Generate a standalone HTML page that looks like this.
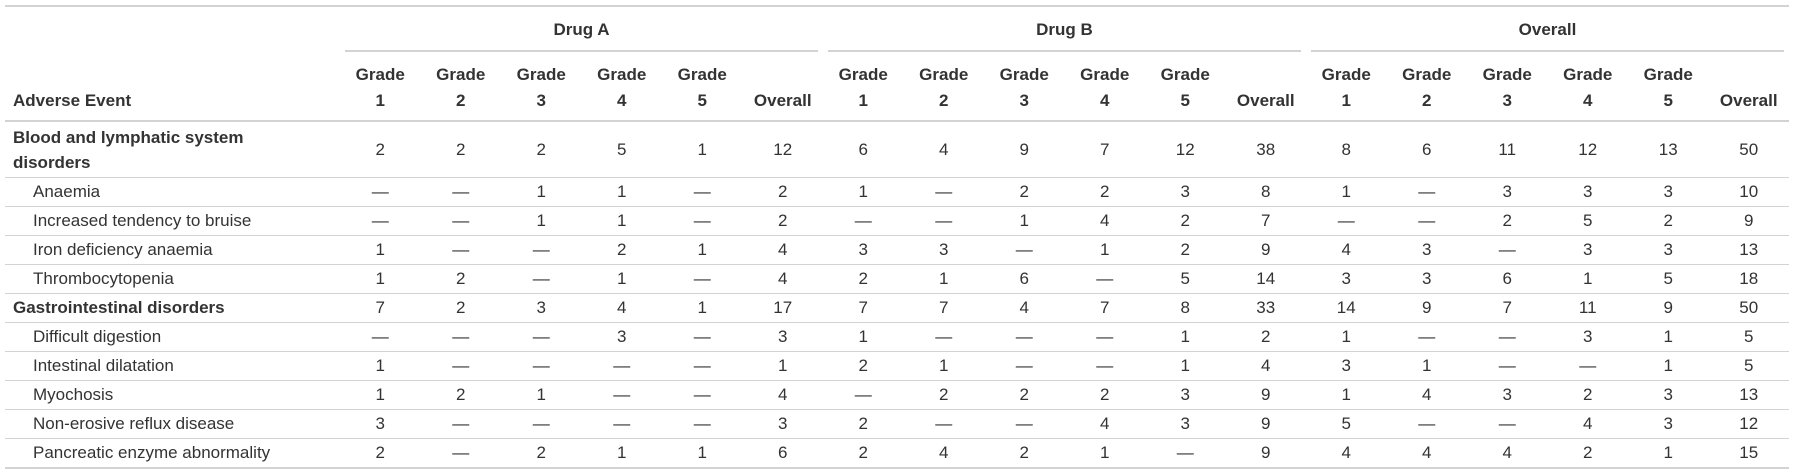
<!DOCTYPE html>
<html><head><meta charset="utf-8"><style>
body{margin:0;background:#fff;width:1795px;height:475px;overflow:hidden;font-family:"Liberation Sans",Arial,sans-serif;color:#333;font-size:17px}
.wrap{position:absolute;left:5px;top:5px;width:1784px;border-top:2px solid #d3d3d3}
.row{display:flex;border-bottom:1px solid #d3d3d3;box-sizing:border-box}
.c{width:80.5px;flex:none;text-align:center;display:flex;align-items:center;justify-content:center}
.l{width:335px;flex:none;display:flex;align-items:center;box-sizing:border-box;padding-left:8px}
.sub{padding-left:28px}
b,.b{font-weight:bold}
.sp{display:flex;height:45px}
.g{width:483px;flex:none;position:relative;text-align:center;font-weight:bold;line-height:45px;height:43px}
.g:after{content:"";position:absolute;left:5px;right:5px;bottom:-2px;border-bottom:2px solid #d3d3d3}
.hd{height:70px;border-bottom:2px solid #d3d3d3;font-weight:bold;line-height:26px}
.hd .c,.hd .l{align-items:flex-end;padding-bottom:6px;box-sizing:border-box}
.r{height:29px}
.r1{height:56px;line-height:25px}
.last{border-bottom:2px solid #d3d3d3;height:30px}
</style></head><body>
<div class="wrap">
<div class="sp"><div style="width:335px"></div><div class="g">Drug A</div><div class="g">Drug B</div><div class="g">Overall</div></div>
<div class="row hd"><div class="l">Adverse Event</div>
<div class="c">Grade<br>1</div><div class="c">Grade<br>2</div><div class="c">Grade<br>3</div><div class="c">Grade<br>4</div><div class="c">Grade<br>5</div><div class="c">Overall</div>
<div class="c">Grade<br>1</div><div class="c">Grade<br>2</div><div class="c">Grade<br>3</div><div class="c">Grade<br>4</div><div class="c">Grade<br>5</div><div class="c">Overall</div>
<div class="c">Grade<br>1</div><div class="c">Grade<br>2</div><div class="c">Grade<br>3</div><div class="c">Grade<br>4</div><div class="c">Grade<br>5</div><div class="c">Overall</div></div>
<div class="row r1"><div class="l b">Blood and lymphatic system<br>disorders</div><div class="c">2</div><div class="c">2</div><div class="c">2</div><div class="c">5</div><div class="c">1</div><div class="c">12</div><div class="c">6</div><div class="c">4</div><div class="c">9</div><div class="c">7</div><div class="c">12</div><div class="c">38</div><div class="c">8</div><div class="c">6</div><div class="c">11</div><div class="c">12</div><div class="c">13</div><div class="c">50</div></div>
<div class="row r"><div class="l sub">Anaemia</div><div class="c">—</div><div class="c">—</div><div class="c">1</div><div class="c">1</div><div class="c">—</div><div class="c">2</div><div class="c">1</div><div class="c">—</div><div class="c">2</div><div class="c">2</div><div class="c">3</div><div class="c">8</div><div class="c">1</div><div class="c">—</div><div class="c">3</div><div class="c">3</div><div class="c">3</div><div class="c">10</div></div>
<div class="row r"><div class="l sub">Increased tendency to bruise</div><div class="c">—</div><div class="c">—</div><div class="c">1</div><div class="c">1</div><div class="c">—</div><div class="c">2</div><div class="c">—</div><div class="c">—</div><div class="c">1</div><div class="c">4</div><div class="c">2</div><div class="c">7</div><div class="c">—</div><div class="c">—</div><div class="c">2</div><div class="c">5</div><div class="c">2</div><div class="c">9</div></div>
<div class="row r"><div class="l sub">Iron deficiency anaemia</div><div class="c">1</div><div class="c">—</div><div class="c">—</div><div class="c">2</div><div class="c">1</div><div class="c">4</div><div class="c">3</div><div class="c">3</div><div class="c">—</div><div class="c">1</div><div class="c">2</div><div class="c">9</div><div class="c">4</div><div class="c">3</div><div class="c">—</div><div class="c">3</div><div class="c">3</div><div class="c">13</div></div>
<div class="row r"><div class="l sub">Thrombocytopenia</div><div class="c">1</div><div class="c">2</div><div class="c">—</div><div class="c">1</div><div class="c">—</div><div class="c">4</div><div class="c">2</div><div class="c">1</div><div class="c">6</div><div class="c">—</div><div class="c">5</div><div class="c">14</div><div class="c">3</div><div class="c">3</div><div class="c">6</div><div class="c">1</div><div class="c">5</div><div class="c">18</div></div>
<div class="row r"><div class="l b">Gastrointestinal disorders</div><div class="c">7</div><div class="c">2</div><div class="c">3</div><div class="c">4</div><div class="c">1</div><div class="c">17</div><div class="c">7</div><div class="c">7</div><div class="c">4</div><div class="c">7</div><div class="c">8</div><div class="c">33</div><div class="c">14</div><div class="c">9</div><div class="c">7</div><div class="c">11</div><div class="c">9</div><div class="c">50</div></div>
<div class="row r"><div class="l sub">Difficult digestion</div><div class="c">—</div><div class="c">—</div><div class="c">—</div><div class="c">3</div><div class="c">—</div><div class="c">3</div><div class="c">1</div><div class="c">—</div><div class="c">—</div><div class="c">—</div><div class="c">1</div><div class="c">2</div><div class="c">1</div><div class="c">—</div><div class="c">—</div><div class="c">3</div><div class="c">1</div><div class="c">5</div></div>
<div class="row r"><div class="l sub">Intestinal dilatation</div><div class="c">1</div><div class="c">—</div><div class="c">—</div><div class="c">—</div><div class="c">—</div><div class="c">1</div><div class="c">2</div><div class="c">1</div><div class="c">—</div><div class="c">—</div><div class="c">1</div><div class="c">4</div><div class="c">3</div><div class="c">1</div><div class="c">—</div><div class="c">—</div><div class="c">1</div><div class="c">5</div></div>
<div class="row r"><div class="l sub">Myochosis</div><div class="c">1</div><div class="c">2</div><div class="c">1</div><div class="c">—</div><div class="c">—</div><div class="c">4</div><div class="c">—</div><div class="c">2</div><div class="c">2</div><div class="c">2</div><div class="c">3</div><div class="c">9</div><div class="c">1</div><div class="c">4</div><div class="c">3</div><div class="c">2</div><div class="c">3</div><div class="c">13</div></div>
<div class="row r"><div class="l sub">Non-erosive reflux disease</div><div class="c">3</div><div class="c">—</div><div class="c">—</div><div class="c">—</div><div class="c">—</div><div class="c">3</div><div class="c">2</div><div class="c">—</div><div class="c">—</div><div class="c">4</div><div class="c">3</div><div class="c">9</div><div class="c">5</div><div class="c">—</div><div class="c">—</div><div class="c">4</div><div class="c">3</div><div class="c">12</div></div>
<div class="row r last"><div class="l sub">Pancreatic enzyme abnormality</div><div class="c">2</div><div class="c">—</div><div class="c">2</div><div class="c">1</div><div class="c">1</div><div class="c">6</div><div class="c">2</div><div class="c">4</div><div class="c">2</div><div class="c">1</div><div class="c">—</div><div class="c">9</div><div class="c">4</div><div class="c">4</div><div class="c">4</div><div class="c">2</div><div class="c">1</div><div class="c">15</div></div>
</div>
</body></html>
